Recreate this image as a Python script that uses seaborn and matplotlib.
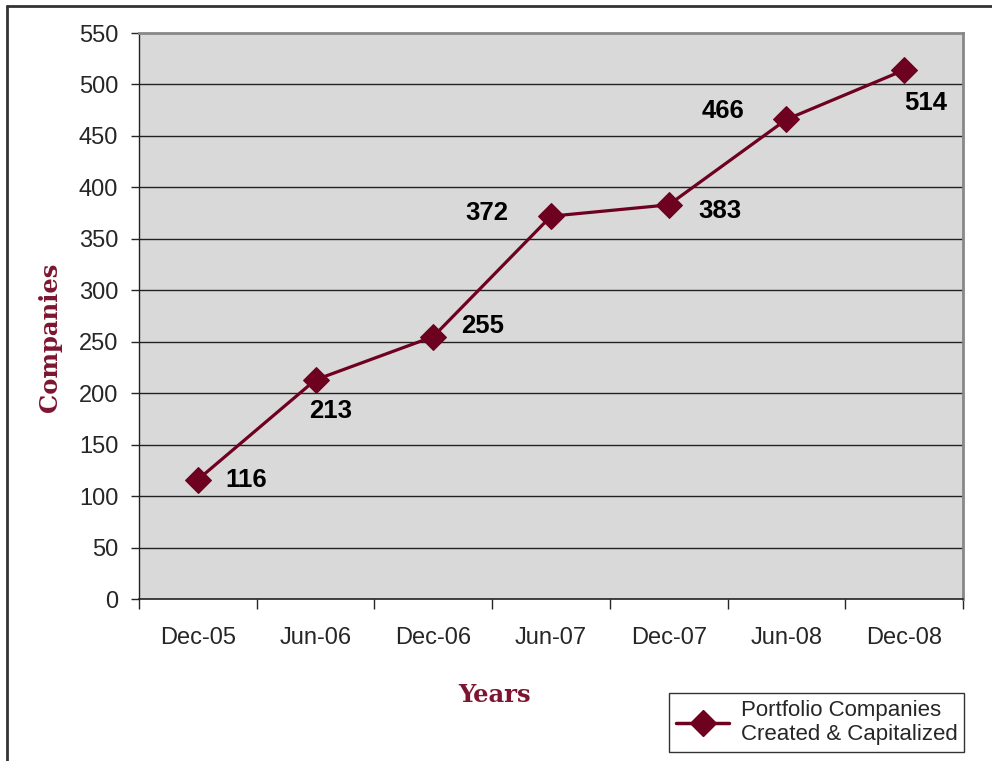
import matplotlib

matplotlib.use("Agg")
import matplotlib.pyplot as plt
import pandas as pd
import seaborn as sns
from matplotlib.lines import Line2D

periods = ["Dec-05", "Jun-06", "Dec-06", "Jun-07", "Dec-07", "Jun-08", "Dec-08"]
companies = [116, 213, 255, 372, 383, 466, 514]
series_name = "Portfolio Companies\nCreated & Capitalized"

# label offsets in pixels (dx, dy) relative to each point
label_offsets = [(48, 0), (15, -31), (49, 11), (-64, 3), (51, -6), (-63, 8), (22, -33)]

MAROON = "#6e0020"
AXIS_RED = "#7d1530"

sns.set_style("white")
plt.rcParams["font.family"] = ["Liberation Sans", "DejaVu Sans"]

df = pd.DataFrame({"idx": range(len(periods)), "period": periods, "companies": companies})

fig = plt.figure(figsize=(9.92, 7.61), dpi=100)
top_px = 33
ax = fig.add_axes([139 / 992, 1 - 599 / 761, (963 - 139) / 992, (599 - top_px) / 761])
ax.set_facecolor("#d9d9d9")

sns.lineplot(data=df, x="idx", y="companies", ax=ax, color=MAROON, linewidth=2.3,
             marker="D", markersize=13, markeredgecolor=MAROON, markerfacecolor=MAROON)

for i, (val, (dx, dy)) in enumerate(zip(companies, label_offsets)):
    ax.annotate(str(val), (i, val), xytext=(dx, dy), textcoords="offset pixels",
                ha="center", va="center", fontsize=18.5, fontweight="bold", color="black")

ax.set_xlim(-0.5, len(periods) - 0.5)
ax.set_ylim(0, 550)
ax.set_yticks(range(0, 551, 50))
ax.tick_params(axis="y", labelsize=17, length=6, width=1, direction="out", left=True, pad=9)
ax.set_xticks(range(len(periods)))
ax.set_xticklabels(periods)
ax.set_xticks([i - 0.5 for i in range(len(periods) + 1)], minor=True)
ax.tick_params(axis="x", which="major", labelsize=17, length=0, pad=20)
ax.tick_params(axis="x", which="minor", length=7, width=1, direction="out", bottom=True)

for y in range(50, 501, 50):
    ax.axhline(y, color="#222222", linewidth=1, zorder=0.5)

for side in ["top", "right"]:
    ax.spines[side].set_color("#888888")
    ax.spines[side].set_linewidth(2)
ax.spines["left"].set_color("#222222")
ax.spines["bottom"].set_color("#222222")
ax.spines["left"].set_linewidth(1)
ax.spines["bottom"].set_linewidth(1.2)

ax.set_xlabel("")
ax.set_ylabel("")
fig.text(50 / 992, 1 - 337 / 761, "Companies", rotation=90, ha="center", va="center",
         fontsize=17.5, fontweight="heavy", color=AXIS_RED, family="DejaVu Serif")
fig.text(495 / 992, 1 - 695 / 761, "Years", ha="center", va="center",
         fontsize=17.5, fontweight="heavy", color=AXIS_RED, family="DejaVu Serif")

handle = Line2D([], [], color=MAROON, linewidth=2.5, marker="D", markersize=13,
                markerfacecolor=MAROON, markeredgecolor=MAROON)
leg = fig.legend([handle], [series_name], loc="lower right",
                 bbox_to_anchor=(964 / 992, 1 - 752 / 761), fontsize=16,
                 frameon=True, fancybox=False, edgecolor="black", handlelength=2.4,
                 handletextpad=0.5, borderpad=0.3, labelspacing=0.05,
                 borderaxespad=0)
leg.get_frame().set_linewidth(1)

# outer frame
fig.add_artist(Line2D([7 / 992, 7 / 992], [0, 1 - 6 / 761], transform=fig.transFigure,
                      color="#333333", linewidth=2))
fig.add_artist(Line2D([7 / 992, 1], [1 - 6 / 761, 1 - 6 / 761], transform=fig.transFigure,
                      color="#333333", linewidth=2))

fig.savefig("out.png", dpi=100)
